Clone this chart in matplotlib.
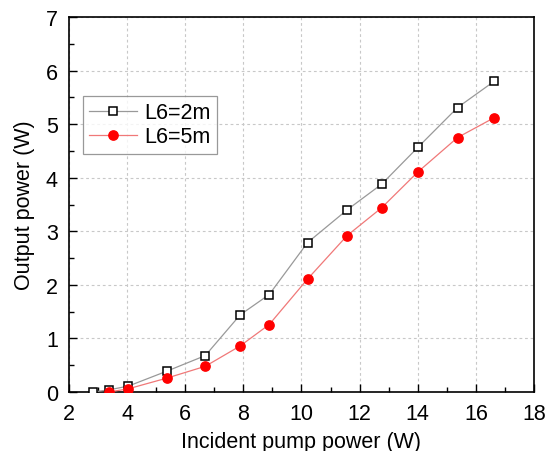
import matplotlib
matplotlib.use("Agg")
import matplotlib.pyplot as plt
from matplotlib.ticker import MultipleLocator

plt.rcParams['font.family'] = ['Liberation Sans', 'DejaVu Sans']

x_2m = [2.83, 3.37, 4.04, 5.37, 6.69, 7.89, 8.89, 10.21, 11.57, 12.76, 14.01, 15.37, 16.63]
y_2m = [0.00, 0.04, 0.11, 0.39, 0.68, 1.44, 1.82, 2.79, 3.40, 3.88, 4.57, 5.31, 5.80]
x_5m = [3.37, 4.04, 5.37, 6.69, 7.89, 8.89, 10.21, 11.57, 12.76, 14.01, 15.37, 16.63]
y_5m = [0.00, 0.06, 0.26, 0.48, 0.86, 1.26, 2.11, 2.92, 3.44, 4.11, 4.75, 5.12]

fig = plt.figure(figsize=(5.45, 4.52), dpi=100)
ax = fig.add_axes([0.1266, 0.1305, 0.8532, 0.8297])

ax.plot(x_2m, y_2m, color='#999999', lw=0.9, marker='s', ms=5.4,
        mfc='white', mec='black', mew=1.1, label='L6=2m', zorder=3)
ax.plot(x_5m, y_5m, color='#f07878', lw=0.9, marker='o', ms=6.7,
        mfc='red', mec='red', label='L6=5m', zorder=3)

ax.set_xlim(2, 18)
ax.set_ylim(0, 7)
ax.xaxis.set_major_locator(MultipleLocator(2))
ax.xaxis.set_minor_locator(MultipleLocator(1))
ax.yaxis.set_major_locator(MultipleLocator(1))
ax.yaxis.set_minor_locator(MultipleLocator(0.5))
ax.tick_params(which='both', direction='in', top=False, right=False,
               labelsize=15.5, width=1.0)
ax.tick_params(axis='x', which='major', length=6, pad=8)
ax.tick_params(axis='y', which='major', length=6, pad=8)
ax.tick_params(which='minor', length=3.5)
ax.grid(True, which='major', color='#c8c8c8', ls=(0, (2.5, 2.5)), lw=0.8)
for s in ax.spines.values():
    s.set_linewidth(1.2)

ax.set_xlabel('Incident pump power (W)', fontsize=15.5, labelpad=5)
ax.set_ylabel('Output power (W)', fontsize=15.5, labelpad=8)

leg = ax.legend(loc='upper left', bbox_to_anchor=(0.03, 0.79), fontsize=15.5,
                frameon=True, fancybox=False, edgecolor='#808080',
                handlelength=2.2, borderaxespad=0, borderpad=0.3,
                labelspacing=0.15, handletextpad=0.33)
leg.get_frame().set_linewidth(0.9)

fig.savefig('out.png', dpi=100)
